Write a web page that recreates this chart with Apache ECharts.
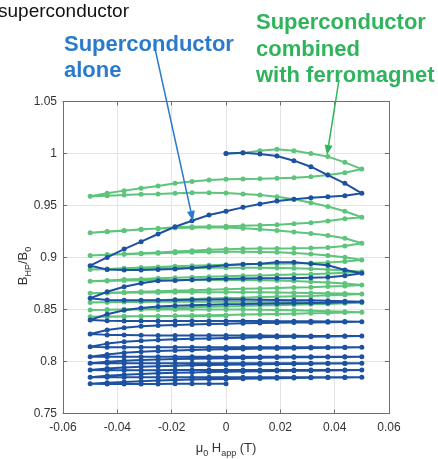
<!DOCTYPE html>
<html><head><meta charset="utf-8">
<script src="https://cdn.jsdelivr.net/npm/echarts@6/dist/echarts.min.js"></script>
<style>html,body{margin:0;padding:0;background:#fff}#c{width:438px;height:459px}</style>
</head><body><div id="c"></div>
<script>
// applied field steps (T)
const fieldUp = [-0.05, -0.04375, -0.0375, -0.03125, -0.025, -0.01875, -0.0125, -0.00625, 0, 0.00625, 0.0125, 0.01875, 0.025, 0.03125, 0.0375, 0.04375, 0.05];
const fieldDown = [0.05, 0.04375, 0.0375, 0.03125, 0.025, 0.01875, 0.0125, 0.00625, 0, -0.00625, -0.0125, -0.01875, -0.025, -0.03125, -0.0375, -0.04375, -0.05];
const fieldFromZero = [0, 0.00625, 0.0125, 0.01875, 0.025, 0.03125, 0.0375, 0.04375, 0.05];
const fieldToZero = [-0.05, -0.04375, -0.0375, -0.03125, -0.025, -0.01875, -0.0125, -0.00625, 0];
const xTickLabels = ['-0.06', '-0.04', '-0.02', '0', '0.02', '0.04', '0.06'];
const yTickLabels = ['0.75', '0.8', '0.85', '0.9', '0.95', '1', '1.05'];

// Superconductor alone: sweeps in measurement order (first 0->0.05, then alternating down/up, last -0.05->0)
const blueSweeps = [
  [1.0000, 1.0007, 0.9995, 0.9976, 0.9931, 0.9873, 0.9793, 0.9713, 0.9617],
  [0.9617, 0.9594, 0.9585, 0.9575, 0.9560, 0.9543, 0.9514, 0.9482, 0.9445, 0.9409, 0.9354, 0.9296, 0.9226, 0.9152, 0.9081, 0.9001, 0.8921],
  [0.8921, 0.8885, 0.8880, 0.8880, 0.8885, 0.8890, 0.8900, 0.8910, 0.8925, 0.8935, 0.8940, 0.8955, 0.8955, 0.8940, 0.8925, 0.8880, 0.8848],
  [0.8848, 0.8825, 0.8810, 0.8805, 0.8800, 0.8800, 0.8800, 0.8798, 0.8795, 0.8790, 0.8785, 0.8780, 0.8777, 0.8752, 0.8719, 0.8670, 0.8608],
  [0.8608, 0.8592, 0.8590, 0.8590, 0.8590, 0.8592, 0.8594, 0.8595, 0.8595, 0.8595, 0.8594, 0.8592, 0.8590, 0.8588, 0.8585, 0.8580, 0.8575],
  [0.8575, 0.8570, 0.8565, 0.8562, 0.8560, 0.8558, 0.8555, 0.8552, 0.8550, 0.8545, 0.8540, 0.8535, 0.8528, 0.8515, 0.8492, 0.8455, 0.8400],
  [0.8400, 0.8392, 0.8390, 0.8390, 0.8390, 0.8390, 0.8390, 0.8390, 0.8390, 0.8390, 0.8389, 0.8388, 0.8387, 0.8386, 0.8385, 0.8384, 0.8383],
  [0.8383, 0.8380, 0.8378, 0.8376, 0.8374, 0.8372, 0.8370, 0.8367, 0.8364, 0.8360, 0.8356, 0.8351, 0.8346, 0.8340, 0.8325, 0.8303, 0.8264],
  [0.8264, 0.8256, 0.8254, 0.8252, 0.8251, 0.8250, 0.8250, 0.8250, 0.8250, 0.8250, 0.8249, 0.8248, 0.8247, 0.8246, 0.8246, 0.8245, 0.8245],
  [0.8245, 0.8243, 0.8241, 0.8239, 0.8237, 0.8235, 0.8232, 0.8229, 0.8226, 0.8222, 0.8218, 0.8213, 0.8207, 0.8200, 0.8190, 0.8172, 0.8142],
  [0.8142, 0.8138, 0.8137, 0.8137, 0.8137, 0.8137, 0.8137, 0.8137, 0.8137, 0.8137, 0.8137, 0.8137, 0.8136, 0.8136, 0.8136, 0.8136, 0.8136],
  [0.8136, 0.8134, 0.8132, 0.8130, 0.8128, 0.8126, 0.8124, 0.8121, 0.8118, 0.8115, 0.8111, 0.8106, 0.8100, 0.8093, 0.8083, 0.8068, 0.8046],
  [0.8046, 0.8045, 0.8045, 0.8045, 0.8045, 0.8046, 0.8046, 0.8046, 0.8046, 0.8046, 0.8046, 0.8046, 0.8046, 0.8046, 0.8046, 0.8046, 0.8046],
  [0.8046, 0.8044, 0.8043, 0.8041, 0.8040, 0.8038, 0.8036, 0.8034, 0.8032, 0.8030, 0.8027, 0.8024, 0.8020, 0.8015, 0.8008, 0.7998, 0.7983],
  [0.7983, 0.7982, 0.7982, 0.7982, 0.7982, 0.7983, 0.7983, 0.7983, 0.7983, 0.7983, 0.7983, 0.7983, 0.7983, 0.7983, 0.7983, 0.7983, 0.7983],
  [0.7983, 0.7981, 0.7980, 0.7978, 0.7977, 0.7975, 0.7973, 0.7971, 0.7969, 0.7966, 0.7963, 0.7959, 0.7955, 0.7950, 0.7943, 0.7933, 0.7918],
  [0.7918, 0.7917, 0.7917, 0.7917, 0.7917, 0.7918, 0.7918, 0.7918, 0.7918, 0.7918, 0.7918, 0.7918, 0.7918, 0.7918, 0.7918, 0.7918, 0.7918],
  [0.7918, 0.7916, 0.7914, 0.7912, 0.7910, 0.7908, 0.7906, 0.7904, 0.7901, 0.7898, 0.7895, 0.7891, 0.7886, 0.7880, 0.7872, 0.7862, 0.7849],
  [0.7849, 0.7848, 0.7848, 0.7848, 0.7848, 0.7849, 0.7849, 0.7849, 0.7849, 0.7849, 0.7849, 0.7849, 0.7849, 0.7849, 0.7849, 0.7849, 0.7849],
  [0.7849, 0.7847, 0.7845, 0.7843, 0.7841, 0.7839, 0.7837, 0.7835, 0.7832, 0.7829, 0.7826, 0.7822, 0.7817, 0.7811, 0.7804, 0.7796, 0.7785],
  [0.7785, 0.7784, 0.7784, 0.7784, 0.7784, 0.7785, 0.7785, 0.7785, 0.7785]
];

// Superconductor combined with ferromagnet
const greenSweeps = [
  [1.0000, 1.0006, 1.0027, 1.0040, 1.0027, 1.0000, 0.9970, 0.9915, 0.9850],
  [0.9850, 0.9815, 0.9793, 0.9777, 0.9767, 0.9761, 0.9757, 0.9755, 0.9752, 0.9745, 0.9730, 0.9714, 0.9688, 0.9666, 0.9643, 0.9618, 0.9588],
  [0.9588, 0.9594, 0.9600, 0.9607, 0.9610, 0.9617, 0.9623, 0.9623, 0.9620, 0.9610, 0.9600, 0.9585, 0.9560, 0.9527, 0.9490, 0.9445, 0.9387],
  [0.9387, 0.9372, 0.9352, 0.9335, 0.9324, 0.9316, 0.9310, 0.9305, 0.9300, 0.9298, 0.9295, 0.9290, 0.9280, 0.9271, 0.9258, 0.9248, 0.9238],
  [0.9238, 0.9250, 0.9260, 0.9270, 0.9278, 0.9283, 0.9287, 0.9290, 0.9288, 0.9282, 0.9272, 0.9260, 0.9245, 0.9230, 0.9212, 0.9185, 0.9137],
  [0.9137, 0.9110, 0.9097, 0.9091, 0.9088, 0.9087, 0.9086, 0.9084, 0.9080, 0.9074, 0.9066, 0.9057, 0.9049, 0.9041, 0.9033, 0.9026, 0.9020],
  [0.9020, 0.9026, 0.9031, 0.9036, 0.9040, 0.9045, 0.9050, 0.9054, 0.9056, 0.9056, 0.9054, 0.9050, 0.9043, 0.9033, 0.9020, 0.9002, 0.8976],
  [0.8976, 0.8962, 0.8953, 0.8947, 0.8943, 0.8940, 0.8937, 0.8934, 0.8930, 0.8926, 0.8921, 0.8915, 0.8909, 0.8903, 0.8897, 0.8890, 0.8884],
  [0.8884, 0.8888, 0.8891, 0.8894, 0.8896, 0.8898, 0.8900, 0.8901, 0.8902, 0.8902, 0.8901, 0.8899, 0.8896, 0.8891, 0.8885, 0.8876, 0.8864],
  [0.8864, 0.8853, 0.8845, 0.8840, 0.8836, 0.8832, 0.8828, 0.8824, 0.8820, 0.8815, 0.8810, 0.8805, 0.8800, 0.8794, 0.8788, 0.8780, 0.8772],
  [0.8772, 0.8775, 0.8778, 0.8780, 0.8782, 0.8783, 0.8784, 0.8784, 0.8784, 0.8783, 0.8781, 0.8778, 0.8774, 0.8768, 0.8760, 0.8750, 0.8736],
  [0.8736, 0.8727, 0.8720, 0.8715, 0.8711, 0.8707, 0.8703, 0.8699, 0.8695, 0.8690, 0.8685, 0.8680, 0.8675, 0.8670, 0.8665, 0.8660, 0.8656],
  [0.8656, 0.8659, 0.8661, 0.8663, 0.8664, 0.8665, 0.8666, 0.8666, 0.8666, 0.8666, 0.8665, 0.8664, 0.8662, 0.8659, 0.8656, 0.8653, 0.8649],
  [0.8649, 0.8642, 0.8636, 0.8631, 0.8627, 0.8623, 0.8619, 0.8614, 0.8610, 0.8605, 0.8600, 0.8595, 0.8590, 0.8584, 0.8578, 0.8572, 0.8567],
  [0.8567, 0.8569, 0.8571, 0.8573, 0.8574, 0.8575, 0.8575, 0.8575, 0.8575, 0.8575, 0.8574, 0.8573, 0.8572, 0.8570, 0.8568, 0.8567, 0.8565],
  [0.8565, 0.8559, 0.8554, 0.8550, 0.8546, 0.8542, 0.8538, 0.8534, 0.8530, 0.8526, 0.8522, 0.8517, 0.8512, 0.8507, 0.8502, 0.8498, 0.8495],
  [0.8495, 0.8497, 0.8499, 0.8500, 0.8501, 0.8501, 0.8501, 0.8501, 0.8500, 0.8499, 0.8497, 0.8495, 0.8492, 0.8488, 0.8484, 0.8479, 0.8474],
  [0.8474, 0.8470, 0.8466, 0.8463, 0.8460, 0.8457, 0.8454, 0.8451, 0.8448, 0.8445, 0.8442, 0.8439, 0.8437, 0.8435, 0.8433, 0.8431, 0.8430],
  [0.8430, 0.8432, 0.8434, 0.8435, 0.8436, 0.8437, 0.8437, 0.8437, 0.8437]
];

function fieldFor(i, len) {
  if (len === fieldFromZero.length) return i === 0 ? fieldFromZero : fieldToZero;
  return i % 2 === 1 ? fieldDown : fieldUp;
}
function buildPath(sweeps) {
  const pts = [];
  sweeps.forEach((s, i) => {
    const f = fieldFor(i, s.length);
    s.forEach((v, j) => { if (i > 0 && j === 0) return; pts.push([f[j], v]); });
  });
  return pts;
}

const BLUE = '#1d51a2', GREEN = '#5ec47b';
const BLUE_TXT = '#2a7bcc', GREEN_TXT = '#2fb45c';
const FONT = '"Liberation Sans", Arial, sans-serif';
const AX = '#6e6e6e';

function arrow(x1, y1, x2, y2, color) {
  const dx = x2 - x1, dy = y2 - y1, L = Math.hypot(dx, dy);
  const ux = dx / L, uy = dy / L, hl = 10, hw = 4;
  const bx = x2 - ux * hl, by = y2 - uy * hl;
  return [
    {type: 'line', shape: {x1: x1, y1: y1, x2: bx, y2: by}, style: {stroke: color, lineWidth: 1.5}, z: 100},
    {type: 'polygon', shape: {points: [[x2, y2], [bx - uy * hw, by + ux * hw], [bx + uy * hw, by - ux * hw]]}, style: {fill: color}, z: 100}
  ];
}

const chart = echarts.init(document.getElementById('c'), null, {renderer: 'canvas'});
const xFmt = v => xTickLabels[Math.round((v + 0.06) / 0.02)] || '';
const yFmt = v => yTickLabels[Math.round((v - 0.75) / 0.05)] || '';

const richAxis = {
  m: {fontSize: 13, lineHeight: 20, fontFamily: FONT, fill: '#333', color: '#333'},
  s: {fontSize: 9, lineHeight: 9, verticalAlign: 'bottom', fontFamily: FONT, fill: '#333', color: '#333'}
};

chart.setOption({
  animation: false,
  backgroundColor: '#fff',
  grid: {left: 63, right: 49, top: 101.5, bottom: 45.5, containLabel: false},
  xAxis: [{
    type: 'value', min: -0.06, max: 0.06, interval: 0.02, position: 'bottom',
    axisLine: {show: true, onZero: false, lineStyle: {color: AX, width: 1}},
    axisTick: {show: true, inside: true, length: 4, lineStyle: {color: AX}},
    axisLabel: {formatter: xFmt, color: '#333', fontSize: 12, fontFamily: FONT, margin: 8},
    splitLine: {show: true, lineStyle: {color: '#e4e4e4', width: 1}}
  }, {
    type: 'value', min: -0.06, max: 0.06, interval: 0.02, position: 'top',
    axisLine: {show: true, onZero: false, lineStyle: {color: AX, width: 1}},
    axisTick: {show: true, inside: true, length: 4, lineStyle: {color: AX}},
    axisLabel: {show: false}, splitLine: {show: false}
  }],
  yAxis: [{
    type: 'value', min: 0.75, max: 1.05, interval: 0.05, position: 'left',
    axisLine: {show: true, onZero: false, lineStyle: {color: AX, width: 1}},
    axisTick: {show: true, inside: true, length: 4, lineStyle: {color: AX}},
    axisLabel: {formatter: yFmt, color: '#333', fontSize: 12, fontFamily: FONT, margin: 6},
    splitLine: {show: true, lineStyle: {color: '#e4e4e4', width: 1}}
  }, {
    type: 'value', min: 0.75, max: 1.05, interval: 0.05, position: 'right',
    axisLine: {show: true, onZero: false, lineStyle: {color: AX, width: 1}},
    axisTick: {show: true, inside: true, length: 4, lineStyle: {color: AX}},
    axisLabel: {show: false}, splitLine: {show: false}
  }],
  series: [{
    name: 'Superconductor combined with ferromagnet', type: 'line', xAxisIndex: 0, yAxisIndex: 0,
    data: buildPath(greenSweeps), symbol: 'circle', symbolSize: 5, showAllSymbol: true,
    lineStyle: {width: 2, color: GREEN}, itemStyle: {color: GREEN}, z: 2, sampling: null
  }, {
    name: 'Superconductor alone', type: 'line', xAxisIndex: 0, yAxisIndex: 0,
    data: buildPath(blueSweeps), symbol: 'circle', symbolSize: 5, showAllSymbol: true,
    lineStyle: {width: 2, color: BLUE}, itemStyle: {color: BLUE}, z: 3
  }],
  graphic: [
    {type: 'text', x: -2, y: 2, style: {text: 'superconductor', fontSize: 19, fontFamily: FONT, fill: '#111', align: 'left', verticalAlign: 'top'}},
    {type: 'text', x: 64, y: 32, style: {text: 'Superconductor\nalone', fontSize: 22, fontWeight: 'bold', lineHeight: 26, fontFamily: FONT, fill: BLUE_TXT, align: 'left', verticalAlign: 'top'}},
    {type: 'text', x: 256, y: 10, style: {text: 'Superconductor\ncombined\nwith ferromagnet', fontSize: 22, fontWeight: 'bold', lineHeight: 26.5, fontFamily: FONT, fill: GREEN_TXT, align: 'left', verticalAlign: 'top'}},
    ...arrow(154, 44, 193, 221, BLUE_TXT),
    ...arrow(339, 80, 327, 155, GREEN_TXT),
    {type: 'text', x: 226, y: 448, style: {text: '{m|μ}{s|0}{m| H}{s|app}{m| (T)}', rich: richAxis, align: 'center', verticalAlign: 'middle'}},
    {type: 'group', x: 23, y: 266, rotation: Math.PI / 2, children: [
      {type: 'text', x: 0, y: 0, style: {text: '{m|B}{s|HP}{m|/B}{s|0}', rich: richAxis, align: 'center', verticalAlign: 'middle'}}
    ]}
  ]
});
</script>
</body></html>
